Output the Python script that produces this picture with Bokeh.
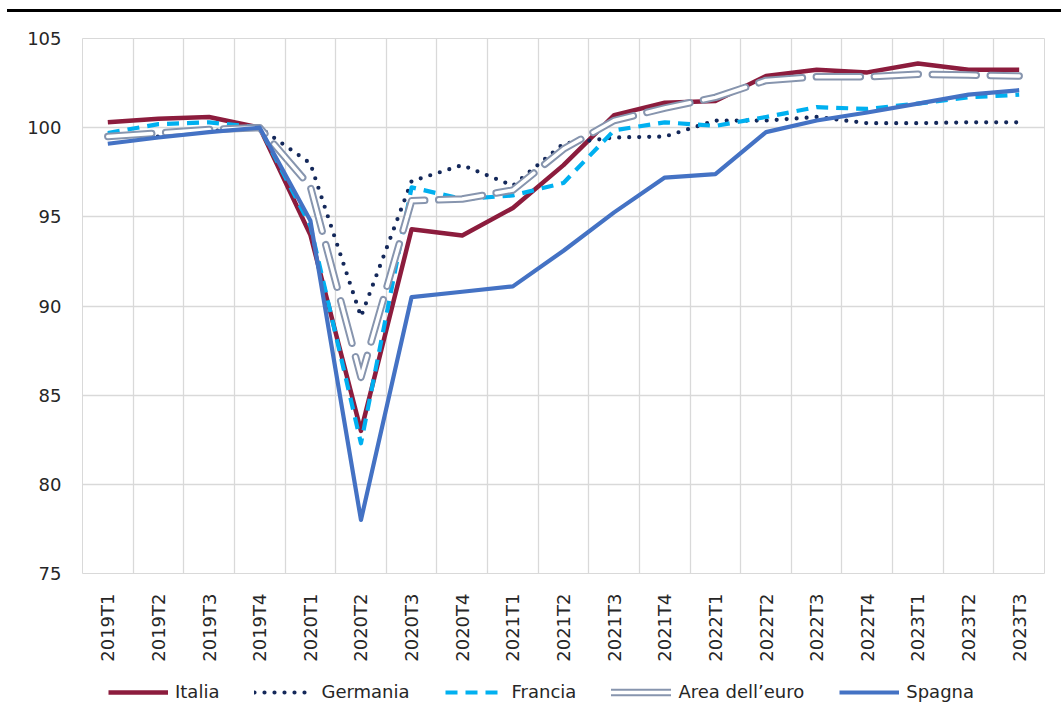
from bokeh.plotting import figure
from bokeh.models import FixedTicker, Legend, LegendItem, Range1d, Div, Grid
from bokeh.layouts import column
from bokeh.embed import file_html
from bokeh.resources import INLINE

quarters = ["2019T1", "2019T2", "2019T3", "2019T4",
            "2020T1", "2020T2", "2020T3", "2020T4",
            "2021T1", "2021T2", "2021T3", "2021T4",
            "2022T1", "2022T2", "2022T3", "2022T4",
            "2023T1", "2023T2", "2023T3"]

italia = [100.3, 100.5, 100.6, 100.0, 94.0, 83.0, 94.3, 93.95, 95.5, 97.9,
          100.7, 101.4, 101.5, 102.9, 103.25, 103.1, 103.6, 103.25, 103.25]
germania = [99.6, 99.5, 99.8, 100.0, 98.0, 89.4, 97.0, 97.9, 96.75, 99.1,
            99.45, 99.5, 100.4, 100.4, 100.6, 100.25, 100.25, 100.3, 100.3]
francia = [99.7, 100.2, 100.3, 100.0, 94.5, 82.3, 96.65, 96.0, 96.2, 96.9,
           99.85, 100.3, 100.1, 100.6, 101.15, 101.05, 101.35, 101.7, 101.85]
euro = [99.5, 99.7, 99.9, 100.0, 96.7, 86.0, 95.9, 96.0, 96.5, 98.8,
        100.4, 101.1, 101.7, 102.65, 102.85, 102.85, 103.0, 102.95, 102.9]
spagna = [99.1, 99.45, 99.75, 100.0, 94.8, 78.0, 90.5, 90.8, 91.1, 93.1,
          95.25, 97.2, 97.4, 99.75, 100.4, 100.85, 101.35, 101.85, 102.1]

y_ticks = [75, 80, 85, 90, 95, 100, 105]
series_names = ["Italia", "Germania", "Francia", "Area dell\u2019euro", "Spagna"]

FONT = "DejaVu Sans"
TXT = "#262626"
GRID = "#d9d9d9"
NAN = float("nan")

C_IT = "#8C1C3D"
C_DE = "#14285A"
C_FR = "#00B0F0"
C_EU = "#8795AE"
C_ES = "#4472C4"

xs = [i + 0.5 for i in range(len(quarters))]

p = figure(width=1058, height=652, x_range=Range1d(0, len(quarters)),
           y_range=Range1d(75, 105), output_backend="svg", toolbar_location=None,
           min_border_left=82, min_border_right=14, min_border_top=26,
           min_border_bottom=91)
p.outline_line_color = GRID
p.background_fill_color = "white"

# grids
p.xgrid.visible = False
p.add_layout(Grid(dimension=0, ticker=FixedTicker(ticks=list(range(len(quarters) + 1))),
                  grid_line_color=GRID, grid_line_width=1.3))
p.ygrid.ticker = FixedTicker(ticks=y_ticks)
p.ygrid.grid_line_color = GRID
p.ygrid.grid_line_width = 1.3

# axes
p.xaxis.ticker = FixedTicker(ticks=xs)
p.xaxis.major_label_overrides = {x: q for x, q in zip(xs, quarters)}
p.xaxis.major_label_orientation = 3.14159265 / 2
p.yaxis.ticker = FixedTicker(ticks=y_ticks)
for ax in (p.xaxis[0], p.yaxis[0]):
    ax.axis_line_color = None
    ax.major_tick_line_color = None
    ax.minor_tick_line_color = None
    ax.major_label_text_font = FONT
    ax.major_label_text_font_size = "18px"
    ax.major_label_text_color = TXT
p.xaxis.major_label_standoff = 14
p.yaxis.major_label_standoff = 15

# series
p.line(xs, italia, line_color=C_IT, line_width=4.5, line_join="round")
p.line(xs, germania, line_color=C_DE, line_width=4.2, line_dash="0 10",
       line_cap="round", line_join="round")
p.line(xs, francia, line_color=C_FR, line_width=4.2, line_dash="12 8",
       line_join="round")
p.line(xs, euro, line_color=C_EU, line_width=7.5, line_dash="44 14",
       line_cap="round", line_join="round")
p.line(xs, euro, line_color="white", line_width=3.5, line_dash="44 14",
       line_cap="round", line_join="round")
p.line(xs, spagna, line_color=C_ES, line_width=4.2, line_join="round")

# legend strip (separate figure below the chart)
lg = figure(width=1058, height=60, x_range=Range1d(0, 1), y_range=Range1d(0, 1),
            output_backend="svg", toolbar_location=None, x_axis_type=None,
            y_axis_type=None, min_border=0, min_border_left=0, min_border_right=0,
            min_border_top=0, min_border_bottom=0)
lg.outline_line_color = None
lg.grid.visible = False
g_it = lg.line([NAN], [NAN], line_color=C_IT, line_width=4.5)
g_de = lg.line([NAN], [NAN], line_color=C_DE, line_width=4.2, line_dash="0 10",
               line_cap="round")
g_fr = lg.line([NAN], [NAN], line_color=C_FR, line_width=4.2, line_dash="12 8")
g_eu_o = lg.line([NAN], [NAN], line_color=C_EU, line_width=7.5, line_cap="round")
g_eu_i = lg.line([NAN], [NAN], line_color="white", line_width=3.5, line_cap="round")
g_es = lg.line([NAN], [NAN], line_color=C_ES, line_width=4.2)

legend = Legend(items=[
    LegendItem(label=series_names[0], renderers=[g_it]),
    LegendItem(label=series_names[1], renderers=[g_de]),
    LegendItem(label=series_names[2], renderers=[g_fr]),
    LegendItem(label=series_names[3], renderers=[g_eu_o, g_eu_i]),
    LegendItem(label=series_names[4], renderers=[g_es]),
], orientation="horizontal", location=(26, 22), border_line_color=None,
    background_fill_alpha=0, glyph_width=60, glyph_height=20,
    label_text_font=FONT, label_text_font_size="18px", label_text_color=TXT,
    spacing=35, label_standoff=7, padding=4, margin=0)
lg.add_layout(legend, "center")

top_line = Div(text="", width=1054, height=3, margin=(9, 0, 0, 7),
               styles={"background-color": "black"})

layout = column(top_line, p, lg, spacing=0)

with open("out.html", "w") as f:
    f.write(file_html(layout, INLINE))
